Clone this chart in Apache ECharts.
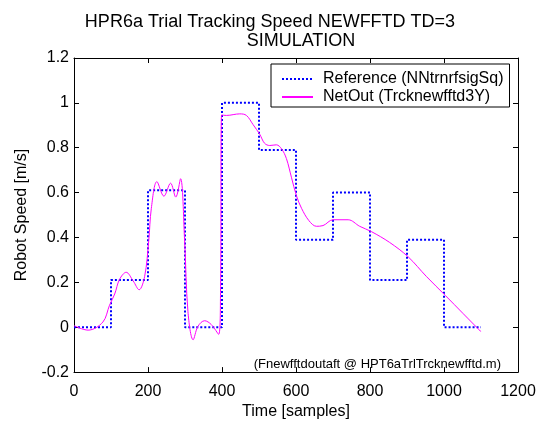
<!DOCTYPE html>
<html><head><meta charset="utf-8">
<script src="https://cdn.jsdelivr.net/npm/echarts@6/dist/echarts.min.js"></script>
<style>html,body{margin:0;padding:0;background:#fff}#c{width:544px;height:425px}</style>
</head><body><div id="c"></div>
<script>
var refX = [0,100,200,300,400,500,600,700,800,900,1000,1100];
var refY = [0,0.21,0.61,0,1.0,0.79,0.39,0.60,0.21,0.39,0,0];
var netX = [0,38,78,96,110,123,141,160,176,191,202,209,224,243,261,275,288,299,308,322,335,353,371,391,396,399,412,448,466,484,502,515,529,547,561,574,588,601,615,635,655,673,700,741,772,804,853,903,952,1004,1051,1100];
var netY = [0.007,-0.013,0.023,0.098,0.148,0.213,0.245,0.206,0.167,0.227,0.385,0.53,0.649,0.584,0.642,0.58,0.662,0.385,0.069,-0.056,0.004,0.029,0.012,-0.032,0.155,0.946,0.944,0.951,0.944,0.903,0.86,0.82,0.81,0.813,0.795,0.752,0.666,0.587,0.53,0.475,0.45,0.453,0.479,0.479,0.45,0.426,0.378,0.314,0.227,0.141,0.062,-0.02];
var xTicks = [0,200,400,600,800,1000,1200];
var yTicks = [-0.2,0,0.2,0.4,0.6,0.8,1,1.2];
var titleLine1 = 'HPR6a Trial Tracking Speed NEWFFTD TD=3';
var titleLine2 = 'SIMULATION';
var seriesNames = ['Reference (NNtrnrfsigSq)','NetOut (Trcknewfftd3Y)'];
var note = '(Fnewfftdoutaft @ HPT6aTrlTrcknewfftd.m)';

var F = 'Liberation Sans, Arial, Helvetica, sans-serif';
var chart = echarts.init(document.getElementById('c'));
function pairs(xs, ys){ return xs.map(function(x,i){return [x, ys[i]];}); }
function axisCommon(){ return {
  axisLine:{show:true,onZero:false,lineStyle:{color:'#000',width:1}},
  axisTick:{show:true,inside:true,length:5,lineStyle:{color:'#000'}},
  splitLine:{show:false}
};}
chart.setOption({
  animation:false,
  backgroundColor:'#fff',
  title:[
    {text:titleLine1,left:265,top:8,textAlign:'center',textStyle:{fontFamily:F,fontSize:18,fontWeight:'normal',color:'#000'}},
    {text:titleLine2,left:296,top:27,textAlign:'center',textStyle:{fontFamily:F,fontSize:18,fontWeight:'normal',color:'#000'}}
  ],
  legend:{
    orient:'vertical', left:271, top:64,
    padding:[7,6,2,10], itemGap:2, itemWidth:31, itemHeight:14,
    backgroundColor:'#fff', borderColor:'#000', borderWidth:1, borderRadius:0,
    itemStyle:{opacity:0},
    textStyle:{fontFamily:F,fontSize:16,color:'#000',lineHeight:16,padding:[0,0,0,5]},
    data:seriesNames
  },
  grid:{left:74,right:26,top:58,bottom:43,containLabel:false},
  xAxis:[
    Object.assign(axisCommon(),{type:'value',min:0,max:1200,interval:200,name:'Time [samples]',nameLocation:'middle',nameGap:27,
      nameTextStyle:{fontFamily:F,fontSize:16,color:'#000'},
      axisLabel:{fontFamily:F,fontSize:16,color:'#000',margin:11,formatter:function(v){return String(v);}}}),
    Object.assign(axisCommon(),{type:'value',min:0,max:1200,interval:200,position:'top',axisLabel:{show:false}})
  ],
  yAxis:[
    Object.assign(axisCommon(),{type:'value',min:-0.2,max:1.2,interval:0.2,name:'Robot Speed [m/s]',nameLocation:'middle',nameGap:44,
      nameTextStyle:{fontFamily:F,fontSize:16,color:'#000'},
      axisLabel:{fontFamily:F,fontSize:16,color:'#000',margin:5,formatter:function(v){return String(Math.round(v*10)/10);}}}),
    Object.assign(axisCommon(),{type:'value',min:-0.2,max:1.2,interval:0.2,position:'right',axisLabel:{show:false}})
  ],
  graphic:[{type:'text',right:43,top:358,style:{text:note,font:'13px '+F,fill:'#000'}}],
  series:[
    {name:seriesNames[0],type:'line',step:'end',data:pairs(refX,refY),symbol:'none',
      lineStyle:{color:'#0000ff',width:2,type:[2,2]},itemStyle:{color:'#0000ff'},z:2},
    {name:seriesNames[1],type:'line',data:pairs(netX,netY),symbol:'none',smooth:0.35,
      lineStyle:{color:'#ff00ff',width:1},itemStyle:{color:'#ff00ff'},z:3}
  ]
});
</script></body></html>
